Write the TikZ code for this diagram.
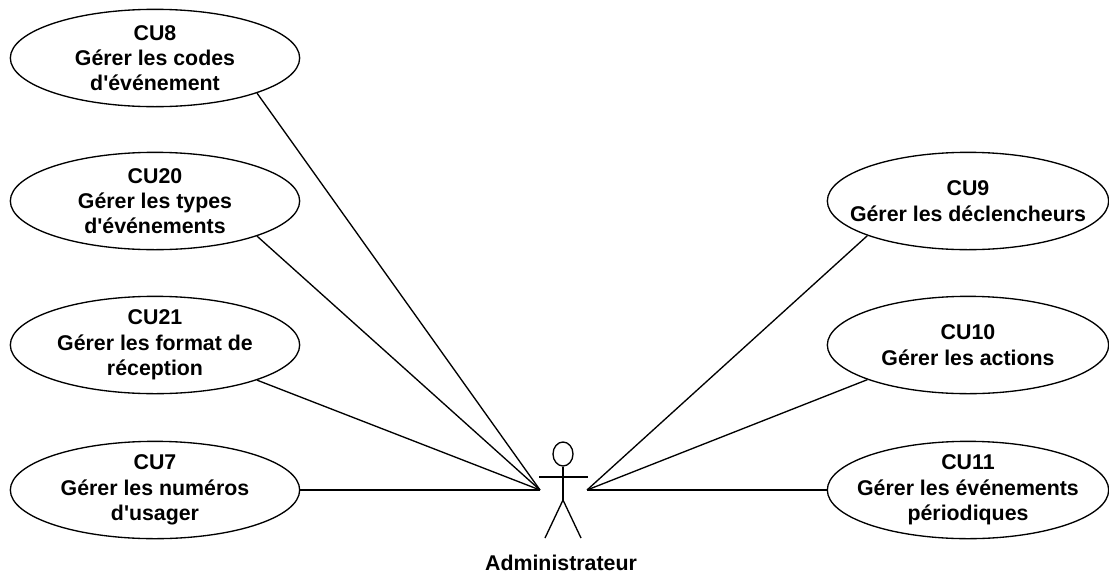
\documentclass[tikz,border=0pt]{standalone}
\usepackage{fontspec}
\usepackage{xcolor}
\setmainfont{Liberation Sans}
\usetikzlibrary{shapes.geometric}

\tikzset{
    usecase/.style={draw, ellipse, line width=1pt, minimum width=217pt, minimum height=73pt, inner sep=-20pt, align=center, font=\bfseries\fontsize{16}{19}\selectfont},
    usecaseright/.style={usecase, minimum width=211pt},
    stickline/.style={line width=1pt},
    link/.style={line width=1pt}
}

\begin{document}
\begin{tikzpicture}[x=0.75pt, y=-0.75pt]
            \useasboundingbox (0, 0) rectangle (1109, 575);

            \node[usecase] (cu8) at (155, 58) {CU8\\Gérer les codes\\d\textquotesingle{}événement};
            \node[usecase] (cu20) at (155, 201) {CU20\\Gérer les types\\d\textquotesingle{}événements};
            \node[usecase] (cu21) at (155, 345) {CU21\\Gérer les format de\\réception};
            \node[usecase] (cu7) at (155, 490) {CU7\\Gérer les numéros\\d\textquotesingle{}usager};

            \node[usecaseright] (cu9) at (968, 201) {CU9\\Gérer les déclencheurs};
            \node[usecaseright] (cu10) at (968, 345) {CU10\\Gérer les actions};
            \node[usecaseright] (cu11) at (968, 490) {CU11\\Gérer les événements\\périodiques};

            \node[draw, ellipse, stickline, minimum width=15pt, minimum height=18pt, inner sep=0pt] (head) at (563, 454) {};
            \coordinate (neck) at (563, 477);
            \coordinate (hip) at (563, 500);
            \coordinate (armleft) at (539, 477);
            \coordinate (armright) at (588, 477);
            \coordinate (footleft) at (545, 538);
            \coordinate (footright) at (581, 538);
            \coordinate (linkleft) at (540, 490);
            \coordinate (linkright) at (587, 490);

            \draw[stickline] (head.south) -- (hip);
            \draw[stickline] (armleft) -- (armright);
            \draw[stickline] (footleft) -- (hip) -- (footright);

            \node[font=\bfseries\fontsize{16}{19}\selectfont] (admin) at (561, 563) {Administrateur};

            \draw[link] (cu8.-19) -- (linkleft);
            \draw[link] (cu20.-19) -- (linkleft);
            \draw[link] (cu21.-19) -- (linkleft);
            \draw[link] (cu7.east) -- (linkleft);

            \draw[link] (cu9.199) -- (linkright);
            \draw[link] (cu10.199) -- (linkright);
            \draw[link] (cu11.west) -- (linkright);
        \end{tikzpicture}
\end{document}
